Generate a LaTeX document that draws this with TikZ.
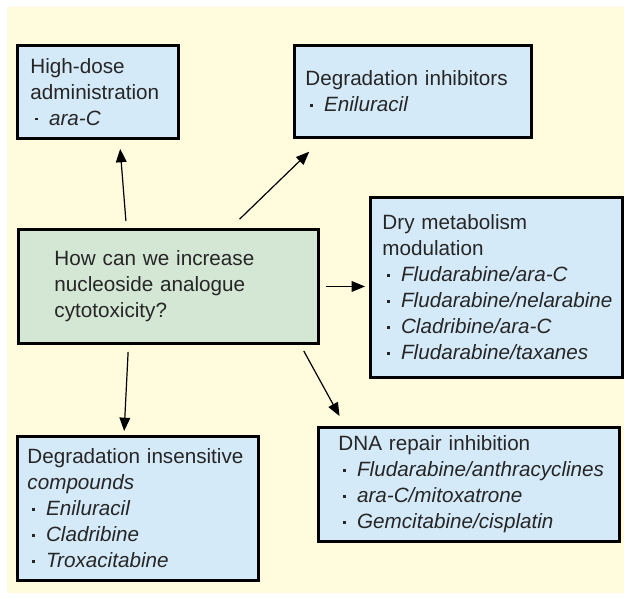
\documentclass[tikz,border=0pt]{standalone}
\usepackage{fontspec}
\setmainfont{Liberation Sans}
\usetikzlibrary{arrows.meta, positioning, calc}
\definecolor{paper}{HTML}{FFFBDC}
\definecolor{boxblue}{HTML}{D5EAF8}
\definecolor{boxgreen}{HTML}{D4E6D4}
\definecolor{ink}{HTML}{262626}
\newlength{\pxu}
\setlength{\pxu}{0.75pt}
\newcommand{\drug}[1]{\mbox{\hspace*{5\pxu}\raisebox{5\pxu}{\rule{2.6\pxu}{2.6\pxu}}\hspace{11\pxu}\textit{#1}}}
\tikzset{
    box/.style={draw=black, line width=2.2pt, fill=boxblue, align=left, anchor=north west, text=ink, font=\fontsize{15.5}{19.5}\selectfont, inner ysep=0pt},
    questionbox/.style={box, fill=boxgreen},
    arr/.style={-{Triangle[length=10pt, width=8pt]}, line width=0.9pt, draw=black}
}

\begin{document}
\begin{tikzpicture}[x=\pxu, y=-\pxu]
        \useasboundingbox (0,0) rectangle (624,598);
        \fill[paper] (7,7) rectangle (624,593);

        \node[questionbox, text width=228\pxu, inner xsep=36\pxu, minimum height=114\pxu] (q) at (17,228) {How can we increase\\nucleoside analogue\\cytotoxicity?};

        \node[box, text width=135\pxu, inner xsep=13\pxu, minimum height=93\pxu] (hd) at (16,44) {High-dose\\administration\\\drug{ara-C}};
        \draw[arr, shorten <=7\pxu, shorten >=9\pxu] ([xshift=-42\pxu]q.north) -- ([xshift=21.5\pxu]hd.south);

        \node[box, text width=215\pxu, inner xsep=11\pxu, minimum height=92\pxu] (di) at (293,44) {Degradation inhibitors\\\drug{Eniluracil}};
        \draw[arr, shorten <=12.7\pxu, shorten >=18.4\pxu] ([xshift=62\pxu]q.north) -- ([xshift=-90.5\pxu]di.south);

        \node[box, text width=228\pxu, inner xsep=12\pxu, minimum height=180\pxu] (dm) at (369,196) {Dry metabolism\\modulation\\\drug{Fludarabine/ara-C}\\\drug{Fludarabine/nelarabine}\\\drug{Cladribine/ara-C}\\\drug{Fludarabine/taxanes}};
        \draw[arr, shorten <=6\pxu, shorten >=4\pxu] (q.east) -- (q.east -| dm.west);

        \node[box, text width=221\pxu, inner xsep=10\pxu, minimum height=144\pxu] (dis) at (16,435) {Degradation insensitive\\\textit{compounds}\\\drug{Eniluracil}\\\drug{Cladribine}\\\drug{Troxacitabine}};
        \draw[arr, shorten <=7\pxu, shorten >=4\pxu] ([xshift=-40\pxu]q.south) -- ([xshift=-14\pxu]dis.north);

        \node[box, text width=261\pxu, inner xsep=20\pxu, minimum height=114\pxu] (dna) at (317,426) {DNA repair inhibition\\\drug{Fludarabine/anthracyclines}\\\drug{ara-C/mitoxatrone}\\\drug{Gemcitabine/cisplatin}};
        \draw[arr, shorten <=6.8\pxu, shorten >=11.3\pxu] ([xshift=132\pxu]q.south) -- ([xshift=-124\pxu]dna.north);
      \end{tikzpicture}
\end{document}
